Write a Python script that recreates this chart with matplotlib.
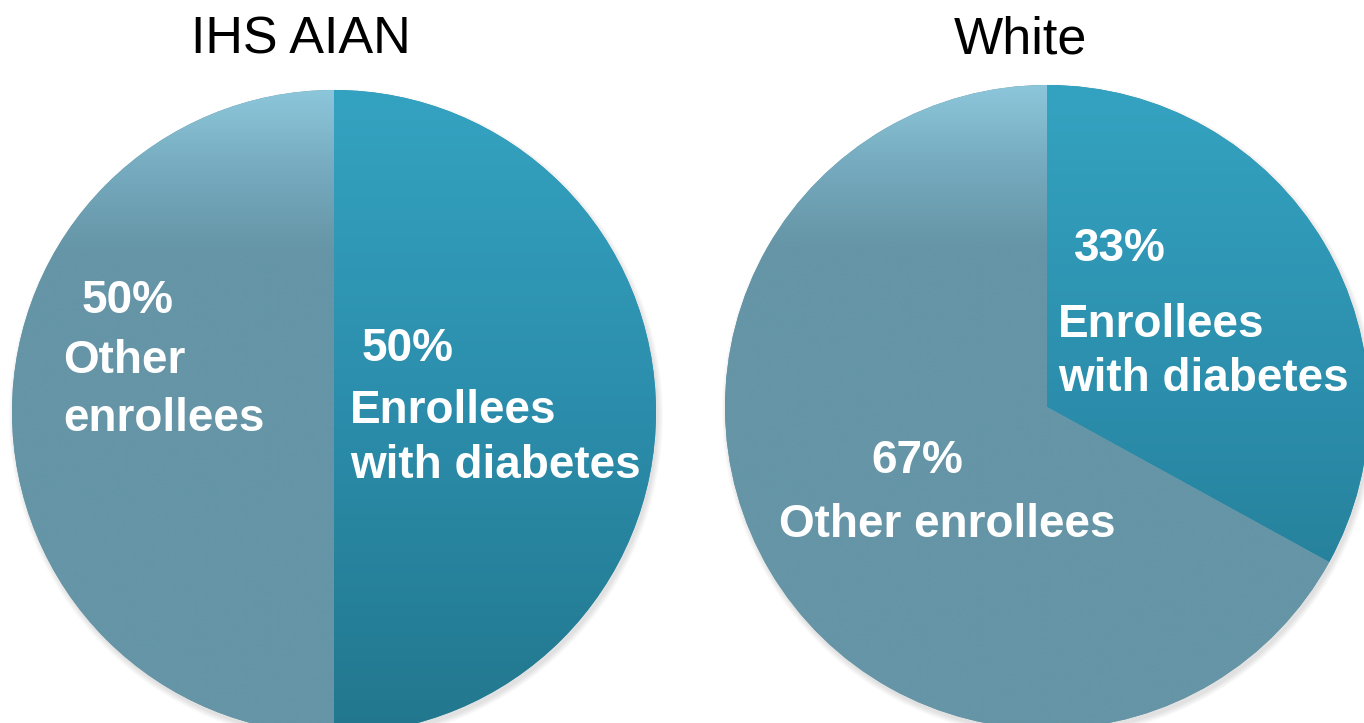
import numpy as np
import matplotlib
matplotlib.use("Agg")
import matplotlib.pyplot as plt
from matplotlib.colors import LinearSegmentedColormap
from matplotlib.patches import Circle

# data
groups = ["IHS AIAN", "White"]
diabetes_share = [50, 33]
other_share = [50, 67]

W, H = 1364, 723
plt.rcParams['font.family'] = ['Liberation Sans', 'DejaVu Sans']

fig = plt.figure(figsize=(W / 100, H / 100), dpi=100)
ax = fig.add_axes([0, 0, 1, 1])


def py(y):
    # image row -> axes y
    return H - y


blue_cmap = LinearSegmentedColormap.from_list("blue", ["#22778d", "#2b8dab", "#34a3c1"])
grey_cmap = LinearSegmentedColormap.from_list(
    "grey", [(0, "#6595a6"), (0.75, "#6595a6"), (0.87, "#75a9bd"), (1.0, "#8cc6da")])

centers = [(334, py(412)), (1047, py(407))]
radius = 322

for (cx, cy), d, o in zip(centers, diabetes_share, other_share):
    # soft shadow, lower right
    for k in range(6):
        ax.add_patch(Circle((cx + 2, cy - 4), radius + k, color="#000000",
                            alpha=0.018, lw=0, zorder=0))
    wedges, _ = ax.pie([d, o], colors=["#2b8dab", "#6595a6"], startangle=90,
                       counterclock=False, center=(cx, cy), radius=radius,
                       wedgeprops=dict(linewidth=0), frame=True)
    grad = np.linspace(0, 1, 256).reshape(-1, 1)
    ext = [cx - radius, cx + radius, cy - radius, cy + radius]
    for w, cmap in zip(wedges, [blue_cmap, grey_cmap]):
        im = ax.imshow(grad, cmap=cmap, extent=ext, origin='lower',
                       aspect='auto', zorder=2, interpolation='bilinear')
        im.set_clip_path(w)

ax.set_xlim(0, W)
ax.set_ylim(0, H)
ax.set_aspect('equal')
ax.axis('off')

# titles
ax.text(301, py(54), groups[0], fontsize=37.5, ha='center', va='baseline', color='black')
ax.text(1020, py(54), groups[1], fontsize=37.5, ha='center', va='baseline', color='black')

lab = dict(fontsize=33, fontweight='bold', color='white', va='baseline', ha='left', zorder=5)

# left pie labels
ax.text(82, py(313), f"{other_share[0]}%", **lab)
ax.text(63, py(373), "Other", **lab)
ax.text(63, py(431), "enrollees", **lab)
ax.text(362, py(361), f"{diabetes_share[0]}%", **lab)
ax.text(350, py(423), "Enrollees", **lab)
ax.text(350, py(478), "with diabetes", **lab)

# right pie labels
ax.text(1074, py(261), f"{diabetes_share[1]}%", **lab)
ax.text(1058, py(337), "Enrollees", **lab)
ax.text(1058, py(391), "with diabetes", **lab)
ax.text(871, py(473), f"{other_share[1]}%", **lab)
ax.text(779, py(537), "Other enrollees", **lab)

fig.savefig("out.png", dpi=100, facecolor='white')
